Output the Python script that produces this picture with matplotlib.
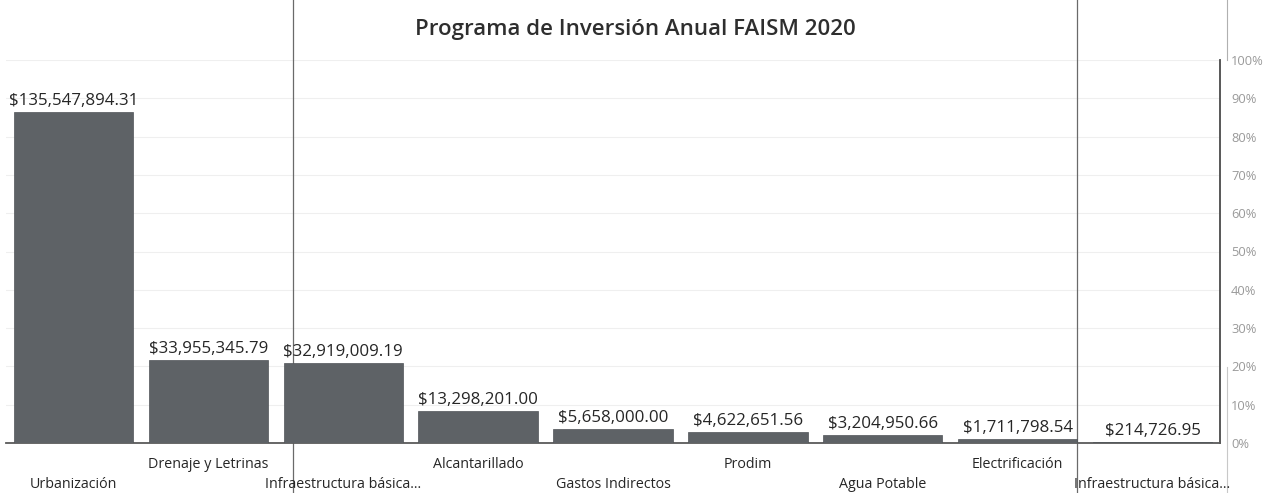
import matplotlib
matplotlib.use("Agg")
import matplotlib.pyplot as plt
from matplotlib.lines import Line2D

categories = ["Urbanización", "Drenaje y Letrinas", "Infraestructura básica...", "Alcantarillado",
              "Gastos Indirectos", "Prodim", "Agua Potable", "Electrificación", "Infraestructura básica..."]
values = [135547894.31, 33955345.79, 32919009.19, 13298201.00, 5658000.00,
          4622651.56, 3204950.66, 1711798.54, 214726.95]
pct_ticks = [0, 0.1, 0.2, 0.3, 0.4, 0.5, 0.6, 0.7, 0.8, 0.9, 1.0]
title = "Programa de Inversión Anual FAISM 2020"

plt.rcParams['font.family'] = ['Open Sans', 'DejaVu Sans']

W, H = 1268, 493
fig = plt.figure(figsize=(W / 100, H / 100), dpi=100)
left, right, top, bottom = 6, 1220, 60, 443
ax = fig.add_axes([left / W, 1 - bottom / H, (right - left) / W, (bottom - top) / H])
ax2 = ax.twinx()
ax.set_zorder(2)
ax.patch.set_visible(False)
ax2.set_zorder(1)

x = list(range(len(values)))
ax.bar(x, values, width=0.885, color='#5e6266', edgecolor='#505458', linewidth=0.5, zorder=3)
ax.set_xlim(-0.5, len(values) - 0.5)
ax.set_ylim(0, 156.8e6)
ax.set_yticks([])
ax.set_xticks([])
for s in ['left', 'top']:
    ax.spines[s].set_visible(False)
ax.spines['right'].set_color('#4a4a4a')
ax.spines['right'].set_linewidth(1.3)
ax.spines['bottom'].set_color('#5a5a5a')
ax.spines['bottom'].set_linewidth(1.3)

for i, v in enumerate(values):
    ax.annotate(f"${v:,.2f}", xy=(i, v), xytext=(0, 3), textcoords='offset pixels',
                ha='center', va='bottom', fontsize=12.2, color='#262626')
    off = -41 if i % 2 == 0 else -22
    ax.annotate(categories[i], xy=(i, 0), xycoords=('data', 'axes fraction'),
                xytext=(0, off), textcoords='offset pixels', ha='center', va='center',
                fontsize=10.3, color='#262626', annotation_clip=False)

ax2.set_ylim(0, 1)
ax2.set_yticks(pct_ticks)
ax2.set_yticklabels([f"{int(round(t * 100))}%" for t in pct_ticks])
ax2.tick_params(axis='y', length=0, pad=8, labelsize=9.3, labelcolor='#9a9a9a')
for s in ax2.spines.values():
    s.set_visible(False)
ax2.grid(axis='y', color='#efefef', linewidth=0.8)

fig.text(635 / W, 1 - 30 / H, title, ha='center', va='center', fontsize=16,
         color='#2e2e2e', fontweight='semibold')

# scanned page rules
for xp in [293, 1077]:
    fig.add_artist(Line2D([xp / W, xp / W], [0, 1], transform=fig.transFigure,
                          color='#6a6a6a', linewidth=0.9))
fig.add_artist(Line2D([1227 / W, 1227 / W], [1 - 60 / H, 1], transform=fig.transFigure,
                      color='#b0b0b0', linewidth=0.8))
fig.add_artist(Line2D([1227 / W, 1227 / W], [0, 1 - 367 / H], transform=fig.transFigure,
                      color='#c8c8c8', linewidth=0.8))

fig.savefig("out.png", dpi=100)
